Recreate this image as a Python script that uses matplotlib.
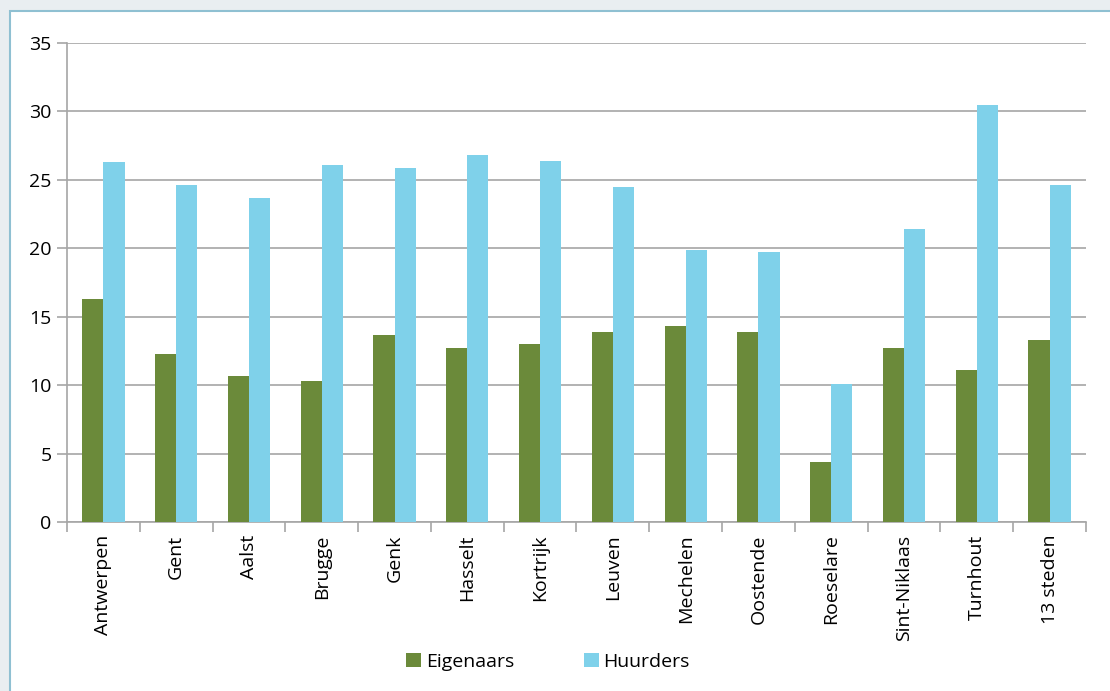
import matplotlib.pyplot as plt
import matplotlib.patches as mpatches
import numpy as np

plt.rcParams['font.family'] = ['Open Sans', 'DejaVu Sans']

steden = ['Antwerpen', 'Gent', 'Aalst', 'Brugge', 'Genk', 'Hasselt', 'Kortrijk',
          'Leuven', 'Mechelen', 'Oostende', 'Roeselare', 'Sint-Niklaas',
          'Turnhout', '13 steden']
eigenaars = [16.3, 12.3, 10.7, 10.3, 13.7, 12.7, 13.0, 13.9, 14.3, 13.9, 4.4, 12.7, 11.1, 13.3]
huurders = [26.3, 24.6, 23.7, 26.1, 25.9, 26.8, 26.4, 24.5, 19.9, 19.7, 10.1, 21.4, 30.5, 24.6]

green = '#6b8a3a'
blue = '#7fd1ea'
grid_c = '#a6a6a6'

fig = plt.figure(figsize=(11.1, 6.91), dpi=100)
fig.patch.set_facecolor('#e9eef1')
# white panel with light blue border
panel = mpatches.Rectangle((10 / 1110, -0.05), 1.1, 1 - 11 / 691 + 0.05,
                           transform=fig.transFigure, facecolor='white',
                           edgecolor='#8fc0d2', linewidth=1.5, zorder=-5)
fig.add_artist(panel)

ax = fig.add_axes([67 / 1110, 1 - 522 / 691, (1086 - 67) / 1110, (522 - 43) / 691])
ax.set_facecolor('none')
ax.set_zorder(2)

x = np.arange(len(steden))
w = 0.29
ax.bar(x - w / 2, eigenaars, w, color=green, label='Eigenaars', zorder=3)
ax.bar(x + w / 2, huurders, w, color=blue, label='Huurders', zorder=3)

ax.set_xlim(-0.5, len(steden) - 0.5)
ax.set_ylim(0, 35)
ax.set_yticks(range(0, 36, 5))
ax.yaxis.grid(True, color=grid_c, linewidth=1.2, zorder=0)
ax.set_axisbelow(True)
ax.tick_params(axis='y', length=7, color=grid_c, width=1.2, labelsize=14, pad=4)

ax.set_xticks(x)
ax.set_xticklabels(steden, rotation=90, fontsize=14)
ax.tick_params(axis='x', which='major', length=0, pad=9)
ax.set_xticks(np.arange(-0.5, len(steden), 1), minor=True)
ax.tick_params(axis='x', which='minor', length=7, color=grid_c, width=1.2)

for s in ['top', 'right']:
    ax.spines[s].set_visible(False)
for s in ['left', 'bottom']:
    ax.spines[s].set_color(grid_c)
    ax.spines[s].set_linewidth(1.2)

fig.legend(loc='center', bbox_to_anchor=(548 / 1110, 1 - 662 / 691), ncol=2,
           frameon=False, fontsize=14, handlelength=0.75, handleheight=0.75,
           columnspacing=3.6, handletextpad=0.25)

fig.savefig('out.png', dpi=100)
